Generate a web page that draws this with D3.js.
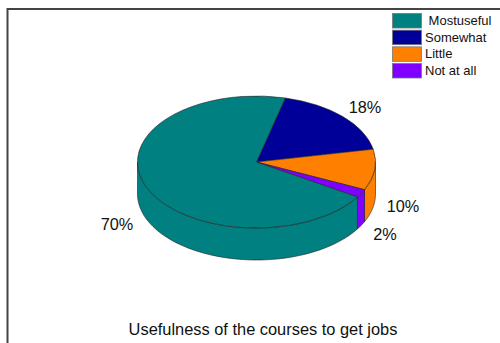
<!DOCTYPE html>
<html><head><meta charset="utf-8">
<script src="https://cdn.jsdelivr.net/npm/d3@7"></script>
<style>html,body{margin:0;padding:0;background:#fff}svg{display:block}text{font-family:"Liberation Sans",Arial,sans-serif;fill:#111}</style>
</head><body><div id="c"></div>
<script>
const categories = ["Mostuseful","Somewhat","Little","Not at all"];
const values = [70,18,10,2];
const colors = ["#008080","#000099","#ff8000","#8000ff"];
const legendNames = ["\u00a0Mostuseful","Somewhat","Little","Not at all"];
const title = "Usefulness of the courses to get jobs";

const W=500,H=343,cx=256.5,cy=162,rx=119,ry=66,depth=32;
const svg=d3.select("#c").append("svg").attr("width",W).attr("height",H);
svg.append("path").attr("d",`M7.5 343V9H500`).attr("fill","none").attr("stroke","#444").attr("stroke-width",2);

const start=14*Math.PI/180;
const order=[1,2,3,0];
const pie=d3.pie().sort(null).value(i=>values[i]).startAngle(start).endAngle(start+2*Math.PI);
const arcs=pie(order);
const X=a=>cx+rx*Math.sin(a), Y=a=>cy-ry*Math.cos(a);

// walls (front half only)
const frontA=Math.PI/2, frontB=3*Math.PI/2;
const wall=svg.append("g");
arcs.forEach(d=>{
  const a0=Math.max(d.startAngle,frontA), a1=Math.min(d.endAngle,frontB);
  if(a1<=a0) return;
  const pts=d3.range(0,41).map(k=>a0+(a1-a0)*k/40);
  const top=pts.map(a=>[X(a),Y(a)]);
  const bot=pts.slice().reverse().map(a=>[X(a),Y(a)+depth]);
  wall.append("path").attr("d",d3.line()(top.concat(bot))+"Z")
    .attr("fill",colors[d.data]).attr("stroke","#222").attr("stroke-width",0.6).attr("stroke-linejoin","round");
});

// top face
const arc=d3.arc().innerRadius(0).outerRadius(rx);
const topG=svg.append("g").attr("transform",`translate(${cx},${cy}) scale(1,${ry/rx})`);
topG.selectAll("path").data(arcs).join("path").attr("d",arc)
  .attr("fill",d=>colors[d.data]).attr("stroke","#222").attr("stroke-width",0.6)
  .attr("vector-effect","non-scaling-stroke").attr("stroke-linejoin","round");

// value labels
const labelXs=[117,365,403,385], labelYs=[224,107,206,234];
values.forEach((v,i)=>svg.append("text").attr("x",labelXs[i]).attr("y",labelYs[i]+5.5)
  .attr("text-anchor","middle").attr("font-size",16.3).text(v+"%"));

// legend
const ly=d3.scalePoint().domain(categories).range([13,63]);
const lg=svg.append("g");
categories.forEach((c,i)=>{
  lg.append("rect").attr("x",392.5).attr("y",ly(c)+.5).attr("width",29).attr("height",14.5)
    .attr("fill",colors[i]).attr("stroke","#777").attr("stroke-width",0.8);
  lg.append("text").attr("x",425).attr("y",ly(c)+12).attr("font-size",13).text(legendNames[i]);
});

svg.append("text").attr("x",263).attr("y",335).attr("text-anchor","middle").attr("font-size",16.4).text(title);
</script></body></html>
